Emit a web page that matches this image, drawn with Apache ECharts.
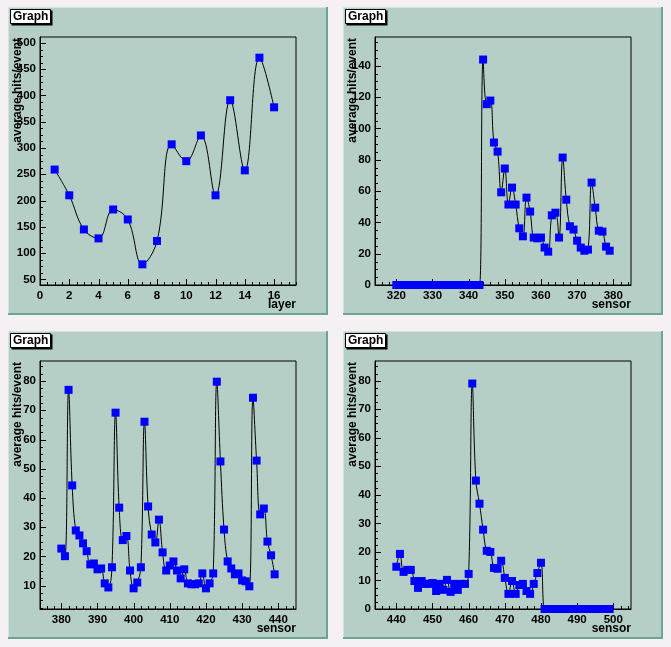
<!DOCTYPE html>
<html>
<head>
<meta charset="utf-8">
<script src="https://cdn.jsdelivr.net/npm/echarts@6/dist/echarts.min.js"></script>
<style>
html,body{margin:0;padding:0;background:#f4f0f4;}
#c{width:671px;height:647px;}
</style>
</head>
<body>
<div id="c"></div>
<script>
// ---------- data ----------
const layers = [1,2,3,4,5,6,7,8,9,10,11,12,13,14,15,16];
const hitsLayer = [259,210,145,128,183,164,78.6,123,307,275,324,210,391,257.5,472,377.5];

const sensorsA = [320,321,322,323,324,325,326,327,328,329,330,331,332,333,334,335,336,337,338,339,
  340,341,342,343,344,345,346,347,348,349,350,351,352,353,354,355,356,357,358,359,
  360,361,362,363,364,365,366,367,368,369,370,371,372,373,374,375,376,377,378,379];
const hitsA = [0,0,0,0,0,0,0,0,0,0,0,0,0,0,0,0,0,0,0,0,0,0,0,0,
  144.0,115.5,117.8,91.0,85.2,59.2,74.4,51.4,62.2,51.4,36.2,31.1,55.8,46.9,30.3,
  29.8,30.3,23.9,21.3,44.5,46.2,30.3,81.4,54.5,37.5,35.4,28.3,23.9,21.9,22.6,
  65.4,49.4,34.7,34.1,24.5,21.9];

const sensorsB = [380,381,382,383,384,385,386,387,388,389,390,391,392,393,394,395,396,397,398,399,
  400,401,402,403,404,405,406,407,408,409,410,411,412,413,414,415,416,417,418,419,
  420,421,422,423,424,425,426,427,428,429,430,431,432,433,434,435,436,437,438,439];
const hitsB = [22.7,20.1,77.0,44.3,28.9,27.2,24.5,21.8,17.3,17.6,
  15.6,15.9,10.8,9.4,16.3,69.2,36.7,25.6,27.0,15.2,
  9.1,11.1,16.3,66.1,37.1,27.5,24.8,32.6,21.4,15.2,
  16.9,18.3,15.2,12.5,15.6,10.8,10.5,10.5,10.8,14.2,
  9.1,10.8,14.2,79.8,52.5,29.2,18.3,15.9,13.9,14.2,
  11.8,11.5,9.8,74.3,52.8,34.4,36.4,25.1,20.4,13.9];

const sensorsC = [440,441,442,443,444,445,446,447,448,449,450,451,452,453,454,455,456,457,458,459,
  460,461,462,463,464,465,466,467,468,469,470,471,472,473,474,475,476,477,478,479,
  480,481,482,483,484,485,486,487,488,489,490,491,492,493,494,495,496,497,498,499];
const hitsC = [14.8,19.3,13.0,13.7,13.7,9.8,7.4,9.8,8.8,8.8,9.1,6.3,8.8,6.7,10.2,6.0,8.8,6.7,8.8,8.8,
  12.3,79.0,45.0,36.9,27.8,20.4,20.0,14.4,14.1,16.9,10.9,5.3,9.8,5.3,8.4,8.8,6.3,5.3,8.8,12.6,
  16.2,0,0,0,0,0,0,0,0,0,0,0,0,0,0,0,0,0,0,0];

// tick labels
const xTicksLayer = [0,2,4,6,8,10,12,14,16];
const yTicksLayer = [50,100,150,200,250,300,350,400,450,500];
const xTicksA = [320,330,340,350,360,370,380];
const yTicksA = [0,20,40,60,80,100,120,140];
const xTicksB = [380,390,400,410,420,430,440];
const yTicksB = [10,20,30,40,50,60,70,80];
const xTicksC = [440,450,460,470,480,490,500];
const yTicksC = [0,10,20,30,40,50,60,70,80];

const panelTitle = 'Graph';
const yTitle = 'average hits/event';
const xTitles = ['layer','sensor','sensor','sensor'];

// ---------- helpers ----------
function rootRange(arr){
  let mn = Math.min.apply(null, arr), mx = Math.max.apply(null, arr);
  const d = mx - mn;
  let lo = mn - 0.1*d, hi = mx + 0.1*d;
  if (lo < 0 && mn >= 0) lo = 0;
  return [lo, hi];
}
function minorTicks(lo, hi, step){
  const out = [];
  const start = Math.ceil(lo/step - 1e-9);
  for (let k = start; k*step <= hi + 1e-9; k++) out.push(+(k*step).toFixed(6));
  return out;
}

const panels = [
  {xs: layers,   ys: hitsLayer, xt: xTicksLayer, yt: yTicksLayer, xm: 0.5, ym: 12.5},
  {xs: sensorsA, ys: hitsA,     xt: xTicksA,     yt: yTicksA,     xm: 2,   ym: 5},
  {xs: sensorsB, ys: hitsB,     xt: xTicksB,     yt: yTicksB,     xm: 2,   ym: 2.5},
  {xs: sensorsC, ys: hitsC,     xt: xTicksC,     yt: yTicksC,     xm: 2,   ym: 2.5}
];
const pads = [{x:8,y:7},{x:343,y:7},{x:8,y:331},{x:343,y:331}];
const PADW = 320, PADH = 308;
const padColor = '#b5cfc7';
const padDark = '#6ba595';
const padLight = '#d3e4de';
const FONT = 'Liberation Sans, Arial, sans-serif';
const MAJOR = 6, MINOR = 3;

const grids = [], xAxes = [], yAxes = [], series = [], graphics = [];

panels.forEach((p, i) => {
  const pad = pads[i];
  const xr = rootRange(p.xs), yr = rootRange(p.ys);
  grids.push({left: pad.x + 32, top: pad.y + 30, width: 256, height: 248,
    show: true, borderColor: '#000', borderWidth: 1, backgroundColor: 'transparent'});
  xAxes.push({type: 'value', gridIndex: i, min: xr[0], max: xr[1], position: 'bottom',
    axisLine: {show: true, onZero: false, lineStyle: {color: '#000', width: 1}},
    axisTick: {show: false},
    axisLabel: {show: true, color: '#000', fontFamily: FONT, fontWeight: 'bold', fontSize: 11.5, margin: 5, customValues: p.xt},
    splitLine: {show: false}});
  yAxes.push({type: 'value', gridIndex: i, min: yr[0], max: yr[1], position: 'left',
    axisLine: {show: true, onZero: false, lineStyle: {color: '#000', width: 1}},
    axisTick: {show: false},
    axisLabel: {show: true, color: '#000', fontFamily: FONT, fontWeight: 'bold', fontSize: 11.5, margin: 4, customValues: p.yt},
    splitLine: {show: false}});

  // tick marks (drawn through the axes' own scales)
  const tickData = [];
  p.xt.forEach(v => tickData.push([v, 0, MAJOR]));
  minorTicks(xr[0], xr[1], p.xm).forEach(v => tickData.push([v, 0, MINOR]));
  p.yt.forEach(v => tickData.push([v, 1, MAJOR]));
  minorTicks(yr[0], yr[1], p.ym).forEach(v => tickData.push([v, 1, MINOR]));
  const xLo = xr[0], yLo = yr[0], xHi = xr[1], yHi = yr[1];
  series.push({type: 'custom', xAxisIndex: i, yAxisIndex: i, silent: true, clip: false, z: 3,
    encode: {x: -1, y: -1},
    data: tickData,
    renderItem: function(params, api){
      const v = api.value(0), f = api.value(1), L = api.value(2);
      if (f === 0) {
        if (v < xLo - 1e-9 || v > xHi + 1e-9) return null;
        const pt = api.coord([v, yLo]);
        const x = Math.round(pt[0]) + 0.5;
        return {type: 'line', shape: {x1: x, y1: pt[1], x2: x, y2: pt[1] - L}, style: {stroke: '#000', lineWidth: 1}};
      } else {
        if (v < yLo - 1e-9 || v > yHi + 1e-9) return null;
        const pt = api.coord([xLo, v]);
        const y = Math.round(pt[1]) + 0.5;
        return {type: 'line', shape: {x1: pt[0], y1: y, x2: pt[0] + L, y2: y}, style: {stroke: '#000', lineWidth: 1}};
      }
    }});

  series.push({type: 'line', xAxisIndex: i, yAxisIndex: i,
    data: p.xs.map((x, k) => [x, p.ys[k]]),
    smooth: 0.4, symbol: 'rect', symbolSize: 8, showAllSymbol: true,
    lineStyle: {color: '#000', width: 1},
    itemStyle: {color: '#0000ff'}, z: 4,
    emphasis: {disabled: true}, silent: true, clip: true});

  // pad background + bevel
  graphics.push({type: 'rect', z: -10, shape: {x: pad.x, y: pad.y, width: PADW, height: PADH}, style: {fill: padColor}});
  graphics.push({type: 'rect', z: -9, shape: {x: pad.x, y: pad.y, width: PADW, height: 1}, style: {fill: padLight}});
  graphics.push({type: 'rect', z: -9, shape: {x: pad.x, y: pad.y, width: 1, height: PADH}, style: {fill: padLight}});
  graphics.push({type: 'rect', z: -9, shape: {x: pad.x, y: pad.y + PADH - 2, width: PADW, height: 2}, style: {fill: padDark}});
  graphics.push({type: 'rect', z: -9, shape: {x: pad.x + PADW - 2, y: pad.y, width: 2, height: PADH}, style: {fill: padDark}});
  // title box
  graphics.push({type: 'rect', z: 100, shape: {x: pad.x + 3.5, y: pad.y + 3.5, width: 41, height: 15}, style: {fill: '#000'}});
  graphics.push({type: 'rect', z: 101, shape: {x: pad.x + 2.5, y: pad.y + 2.5, width: 40, height: 14}, style: {fill: '#fff', stroke: '#000', lineWidth: 1}});
  graphics.push({type: 'text', z: 102, x: pad.x + 5, y: pad.y + 10,
    style: {text: panelTitle, fill: '#000', font: 'bold 12px ' + FONT, align: 'left', verticalAlign: 'middle'}});
  // axis titles
  graphics.push({type: 'text', z: 50, x: pad.x + 10, y: pad.y + 31, rotation: Math.PI/2,
    style: {text: yTitle, fill: '#000', font: 'bold 12px ' + FONT, align: 'right', verticalAlign: 'middle'}});
  graphics.push({type: 'text', z: 50, x: pad.x + 288, y: pad.y + 298,
    style: {text: xTitles[i], fill: '#000', font: 'bold 12px ' + FONT, align: 'right', verticalAlign: 'middle'}});
});

const chart = echarts.init(document.getElementById('c'), null, {renderer: 'canvas'});
chart.setOption({
  backgroundColor: '#f4f0f4',
  animation: false,
  grid: grids,
  xAxis: xAxes,
  yAxis: yAxes,
  series: series,
  graphic: {elements: graphics}
});
</script>
</body>
</html>
